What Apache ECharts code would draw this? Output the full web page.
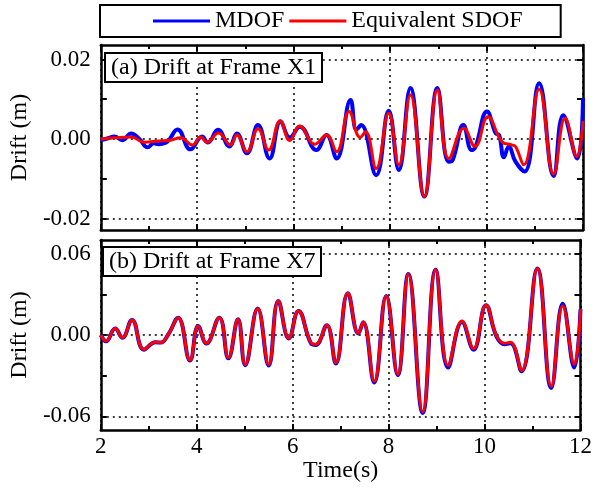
<!DOCTYPE html>
<html>
<head>
<meta charset="utf-8">
<script src="https://cdn.jsdelivr.net/npm/echarts@6/dist/echarts.min.js"></script>
<style>
html,body{margin:0;padding:0;background:#fff;}
#chart{width:595px;height:495px;}
</style>
</head>
<body>
<div id="chart"></div>
<script>
// ---------- data ----------
var seriesNames = ['MDOF', 'Equivalent SDOF'];
var panelTitles = ['(a) Drift at Frame X1', '(b) Drift at Frame X7'];
var xTicks = [2, 4, 6, 8, 10, 12];
var topYLabels = [-0.02, 0, 0.02];
var topYTicks = [-0.02, -0.01, 0, 0.01, 0.02];
var botYLabels = [-0.06, 0, 0.06];
var botYTicks = [-0.06, -0.03, 0, 0.03, 0.06];

// (a) Frame X1 - MDOF
var topMdofT = [2.0, 2.15, 2.28, 2.45, 2.63, 2.8, 2.97, 3.1, 3.2, 3.38, 3.59, 3.86, 4.1, 4.22, 4.43, 4.67, 4.82, 5.03, 5.26,
  5.5, 5.73, 5.92, 6.13, 6.47, 6.68, 6.89, 7.18, 7.3, 7.4, 7.71, 7.97, 8.18, 8.42, 8.71, 8.98, 9.21, 9.3, 9.52, 9.69, 9.77,
  10.01, 10.19, 10.26, 10.36, 10.46, 10.6, 10.79, 11.09, 11.39, 11.59, 11.88, 12.0];
var topMdofV = [-0.0003, 0.0002, 0.0006, -0.0003, 0.0014, 0.0, -0.0021, -0.0011, -0.0013, -0.0007, 0.0024, -0.0026, 0.0006, -0.0009, 0.0023, -0.0019, 0.0014, -0.0036, 0.0035,
  -0.0049, 0.0044, 0.0004, 0.0031, -0.0028, 0.0010, -0.0049, 0.0098, 0.0023, 0.0035, -0.0091, 0.0071, -0.0078, 0.0128, -0.0145, 0.0128, -0.0057, -0.0052, 0.0035, -0.0028, -0.0020,
  0.0069, 0.0014, 0.0010, -0.0046, -0.0019, -0.0057, -0.0082, 0.0140, -0.0093, 0.0060, -0.0049, 0.0103];

// (a) Frame X1 - Equivalent SDOF
var topSdofT = [2.0, 2.3, 2.63, 2.9, 3.2, 3.45, 3.65, 3.9, 4.07, 4.2, 4.44, 4.69, 4.82, 5.03, 5.26, 5.48, 5.72, 5.92, 6.12,
  6.44, 6.68, 6.89, 7.15, 7.38, 7.49, 7.71, 7.97, 8.18, 8.42, 8.71, 8.98, 9.22, 9.53, 9.76, 10.03, 10.32, 10.52, 10.6, 10.77,
  11.09, 11.39, 11.63, 11.87, 12.0];
var topSdofV = [0.0, 0.0003, 0.0005, -0.0008, -0.0005, -0.0003, 0.0003, -0.0015, 0.0005, -0.0008, 0.0015, -0.0015, 0.0010, -0.0032, 0.0026, -0.0028, 0.0046, -0.0004, 0.0033,
  -0.0013, 0.0010, -0.0032, 0.0069, 0.0004, 0.0018, -0.0074, 0.0065, -0.0065, 0.0111, -0.0145, 0.0123, -0.0049, 0.0027, -0.0019, 0.0056, -0.0007, -0.0015, -0.0019, -0.0065,
  0.0125, -0.0088, 0.0052, -0.0044, 0.0045];

// (b) Frame X7 - shared time points
var botT = [2.0, 2.11, 2.3, 2.45, 2.65, 2.9, 3.14, 3.25, 3.41, 3.61, 3.86, 4.03, 4.2, 4.47, 4.66, 4.86, 5.01, 5.27,
  5.5, 5.7, 5.92, 6.12, 6.38, 6.48, 6.71, 6.9, 7.15, 7.37, 7.47, 7.7, 7.95, 8.19, 8.41, 8.71, 8.98, 9.24, 9.53, 9.77,
  10.03, 10.25, 10.42, 10.54, 10.77, 11.1, 11.39, 11.63, 11.87, 12.0];
var botMdofV = [0.0, -0.0046, 0.0047, -0.0020, 0.0111, -0.0108, -0.0053, -0.0056, 0.0007, 0.0128, -0.0188, 0.0067, -0.0063, 0.0128, -0.0172, 0.0116, -0.0222, 0.0195,
  -0.0225, 0.0251, -0.0026, 0.0177, -0.0060, -0.0073, 0.0072, -0.0210, 0.0308, 0.0011, 0.0094, -0.0350, 0.0288, -0.0296, 0.0449, -0.0575, 0.0480, -0.0240, 0.0095, -0.0108,
  0.0220, -0.0012, -0.0068, -0.0060, -0.0268, 0.0490, -0.0390, 0.0230, -0.0240, 0.0190];
var botSdofV = [0.0, -0.0044, 0.0047, -0.0019, 0.0111, -0.0106, -0.0052, -0.0055, 0.0007, 0.0128, -0.0185, 0.0067, -0.0061, 0.0128, -0.0167, 0.0116, -0.0217, 0.0195,
  -0.0217, 0.0251, -0.0024, 0.0177, -0.0057, -0.0069, 0.0072, -0.0204, 0.0308, 0.0013, 0.0096, -0.0340, 0.0288, -0.0290, 0.0449, -0.0565, 0.0480, -0.0224, 0.0104, -0.0100,
  0.0220, -0.0007, -0.0061, -0.0053, -0.0261, 0.0490, -0.0377, 0.0214, -0.0217, 0.0190];

// ---------- build ----------
function pairs(t, v) { return t.map(function (x, i) { return [x, v[i]]; }); }
var FONT = 'Liberation Serif';
var frame = { show: true, onZero: false, lineStyle: { color: '#000', width: 2.5 } };
var grids = [
  { left: 98, top: 45, width: 485, height: 185 },
  { left: 98, top: 240, width: 485, height: 190 }
];
var yRanges = [[-0.0229, 0.02365], [-0.07, 0.07]];
var yLabelVals = [topYLabels, botYLabels];
var yTickVals = [topYTicks, botYTicks];

var xAxes = [], yAxes = [];
for (var g = 0; g < 2; g++) {
  xAxes.push({
    type: 'value', gridIndex: g, position: 'bottom', min: 2, max: 12, interval: 2,
    axisLine: frame,
    axisTick: { show: true, inside: true, length: 6, lineStyle: { color: '#000', width: 2 } },
    minorTick: { show: true, splitNumber: 2, length: 4, lineStyle: { color: '#000', width: 2 } },
    axisLabel: { show: g === 1, margin: 5, color: '#000', fontFamily: FONT, fontSize: 23,
      customValues: xTicks },
    splitLine: { show: true, lineStyle: { color: '#000', width: 1.5, type: [2, 4] } },
    name: g === 1 ? 'Time(s)' : '', nameLocation: 'middle', nameGap: 27,
    nameTextStyle: { color: '#000', fontFamily: FONT, fontSize: 24 }
  });
  xAxes.push({
    type: 'value', gridIndex: g, position: 'top', min: 2, max: 12, interval: 2,
    axisLine: frame,
    axisTick: { show: true, inside: true, length: 6, lineStyle: { color: '#000', width: 2 } },
    minorTick: { show: true, splitNumber: 2, length: 4, lineStyle: { color: '#000', width: 2 } },
    axisLabel: { show: false }, splitLine: { show: false }
  });
  yAxes.push({
    type: 'value', gridIndex: g, position: 'left', min: yRanges[g][0], max: yRanges[g][1],
    axisLine: frame,
    axisTick: { show: true, inside: true, length: 6, lineStyle: { color: '#000', width: 2 }, customValues: yTickVals[g] },
    axisLabel: { show: true, margin: 10, color: '#000', fontFamily: FONT, fontSize: 23,
      customValues: yLabelVals[g], formatter: function (v) { return v.toFixed(2); } },
    splitLine: { show: false },
    name: 'Drift (m)', nameLocation: 'middle', nameGap: 60, nameRotate: 90,
    nameTextStyle: { color: '#000', fontFamily: FONT, fontSize: 24 }
  });
  yAxes.push({
    type: 'value', gridIndex: g, position: 'right', min: yRanges[g][0], max: yRanges[g][1],
    axisLine: frame,
    axisTick: { show: true, inside: true, length: 6, lineStyle: { color: '#000', width: 2 }, customValues: yTickVals[g] },
    axisLabel: { show: false }, splitLine: { show: false }
  });
  yAxes.push({
    type: 'value', gridIndex: g, position: 'left', min: yRanges[g][0], max: yRanges[g][1],
    axisLine: { show: false },
    axisTick: { show: false, customValues: yLabelVals[g] },
    axisLabel: { show: false },
    splitLine: { show: true, lineStyle: { color: '#000', width: 1.5, type: [2, 4] } }
  });
}

function lineSeries(name, color, width, g, data, z) {
  return {
    name: name, type: 'line', xAxisIndex: g * 2, yAxisIndex: g * 3,
    data: data, smooth: 0.45, symbol: 'none', z: z,
    lineStyle: { color: color, width: width }, itemStyle: { color: color }
  };
}

var option = {
  animation: false,
  backgroundColor: '#fff',
  grid: grids,
  xAxis: xAxes,
  yAxis: yAxes,
  legend: {
    data: seriesNames, left: 100, top: 5, icon: 'rect',
    padding: [4, 38, 4, 53], itemGap: 5, itemWidth: 57, itemHeight: 3,
    borderColor: '#000', borderWidth: 2,
    textStyle: { color: '#000', fontFamily: FONT, fontSize: 24, lineHeight: 24 }
  },
  title: [
    { text: panelTitles[0], left: 105, top: 53, padding: [3, 6, 2, 6], borderColor: '#000', borderWidth: 2,
      backgroundColor: '#fff', textStyle: { color: '#000', fontFamily: FONT, fontSize: 24, fontWeight: 'normal' } },
    { text: panelTitles[1], left: 103, top: 247, padding: [3, 6, 2, 6], borderColor: '#000', borderWidth: 2,
      backgroundColor: '#fff', textStyle: { color: '#000', fontFamily: FONT, fontSize: 24, fontWeight: 'normal' } }
  ],
  series: [
    lineSeries(seriesNames[0], '#0000ff', 4, 0, pairs(topMdofT, topMdofV), 2),
    lineSeries(seriesNames[1], '#ff0000', 3, 0, pairs(topSdofT, topSdofV), 3),
    lineSeries(seriesNames[0], '#0000ff', 4, 1, pairs(botT, botMdofV), 2),
    lineSeries(seriesNames[1], '#ff0000', 3, 1, pairs(botT, botSdofV), 3)
  ]
};
var chart = echarts.init(document.getElementById('chart'), null, { renderer: 'canvas' });
chart.setOption(option);
</script>
</body>
</html>
